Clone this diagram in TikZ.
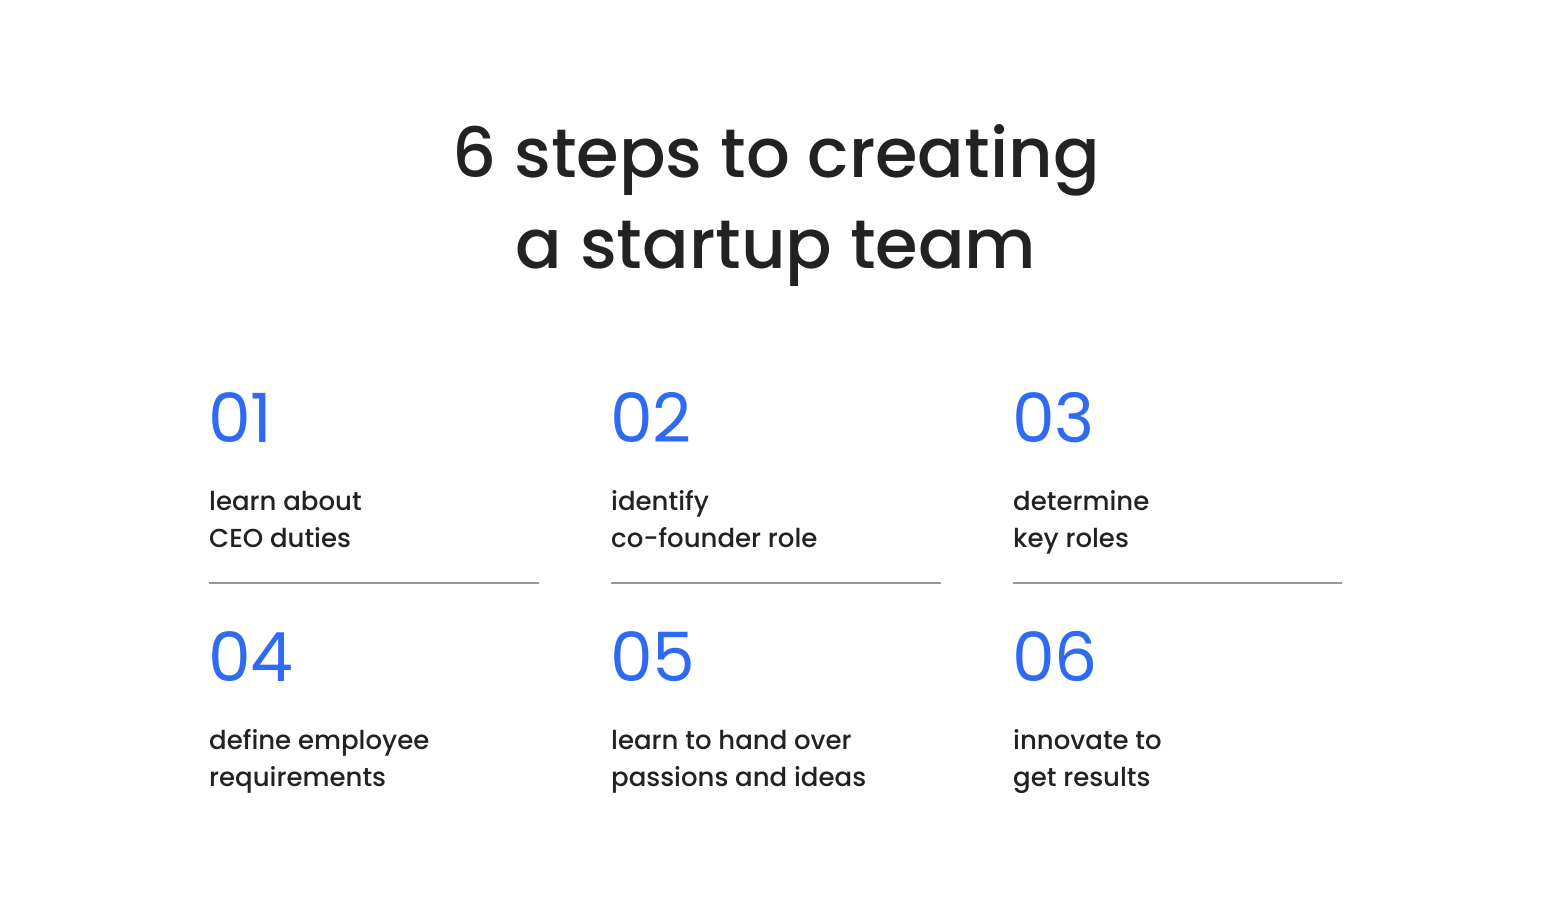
\documentclass[tikz,border=0pt]{standalone}
\usepackage{fontspec}
\setmainfont{Poppins}
\newfontfamily\titlefont{Poppins Medium}
\newfontfamily\numfont{Poppins}
\definecolor{ink}{HTML}{222222}
\definecolor{stepblue}{HTML}{2E6AF2}
\definecolor{rule}{HTML}{999999}
\begin{document}
\begin{tikzpicture}[x=1pt,y=-1pt,
  titletext/.style={font=\titlefont\fontsize{68.8}{91}\selectfont, text=ink, align=center, inner sep=0pt, anchor=base},
  stepnum/.style={font=\numfont\fontsize{68}{80}\selectfont, text=stepblue, inner sep=0pt, anchor=base west},
  stepdesc/.style={font=\titlefont\fontsize{26}{37}\selectfont, text=ink, align=left, inner sep=0pt, anchor=base west},
  sep/.style={draw=rule, line width=2.5pt}
]
\useasboundingbox (0,0) rectangle (1550,912);
\node[titletext] (title) at (776,269) {6 steps to creating\\a startup team};
% row 1
\node[stepnum] (n1) at (208,442) {01};
\node[stepnum] (n2) at (610,442) {02};
\node[stepnum] (n3) at (1012,442) {03};
\node[stepdesc] (d1) at (209,547) {learn about\\CEO duties};
\node[stepdesc] (d2) at (611,547) {identify\\co-founder role};
\node[stepdesc] (d3) at (1013,547) {determine\\key roles};
\coordinate (l1a) at (209,583); \coordinate (l1b) at (539,583);
\coordinate (l2a) at (611,583); \coordinate (l2b) at (941,583);
\coordinate (l3a) at (1013,583); \coordinate (l3b) at (1342,583);
\draw[sep] (l1a) -- (l1b);
\draw[sep] (l2a) -- (l2b);
\draw[sep] (l3a) -- (l3b);
% row 2
\node[stepnum] (n4) at (208,681) {04};
\node[stepnum] (n5) at (610,681) {05};
\node[stepnum] (n6) at (1012,681) {06};
\node[stepdesc] (d4) at (209,786) {define employee\\requirements};
\node[stepdesc] (d5) at (611,786) {learn to hand over\\passions and ideas};
\node[stepdesc] (d6) at (1013,786) {innovate to\\get results};
\end{tikzpicture}
\end{document}
